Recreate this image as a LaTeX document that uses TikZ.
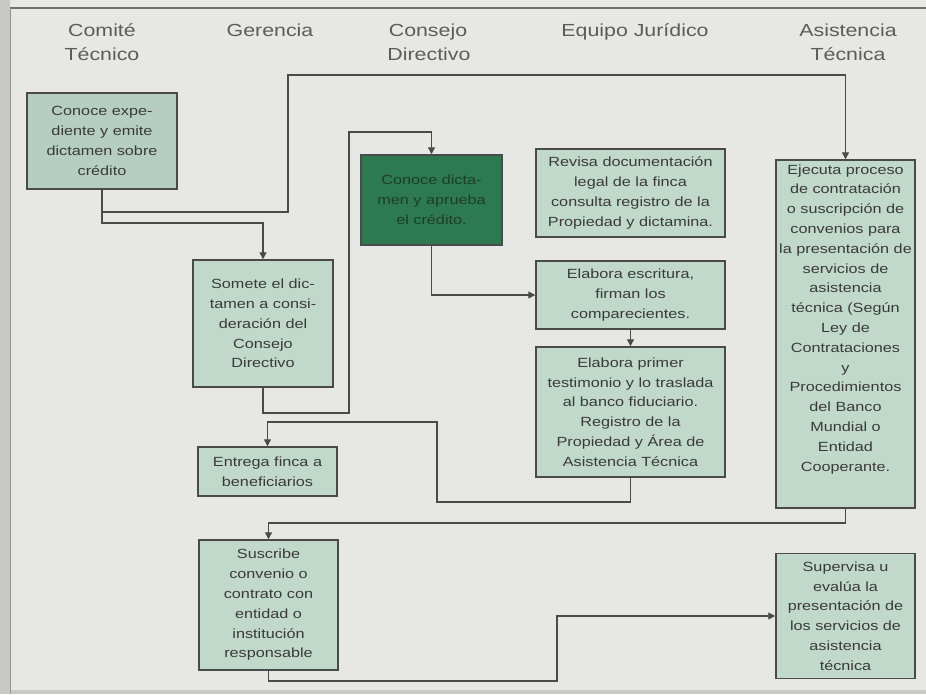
\documentclass[tikz,border=0pt]{standalone}
\usepackage{fontspec}
\setmainfont{Liberation Sans}
\newfontfamily\boxfont[FakeStretch=1.22]{Liberation Sans}
\usetikzlibrary{arrows.meta,calc}
\definecolor{bgc}{RGB}{231,231,227}
\definecolor{edgec}{RGB}{200,200,197}
\definecolor{boxc}{RGB}{193,217,203}
\definecolor{boxc2}{RGB}{182,206,193}
\definecolor{darkc}{RGB}{46,122,80}
\definecolor{darktxt}{RGB}{28,62,40}
\definecolor{linec}{RGB}{74,74,74}
\definecolor{txtc}{RGB}{58,58,58}
\definecolor{hdc}{RGB}{92,92,92}
\tikzset{
  box/.style={draw=linec, line width=1.5pt, fill=boxc, inner sep=0pt, align=center,
    font=\boxfont\fontsize{13.3}{19.8}\selectfont, text=txtc},
  txt/.style={inner sep=0pt, align=center, font=\boxfont\fontsize{13.3}{19.8}\selectfont, text=txtc},
  hd/.style={inner sep=0pt, anchor=base, font=\boxfont\fontsize{17.5}{24}\selectfont, text=hdc},
  arr/.style={draw=linec, line width=1.4pt, -{Triangle[length=7pt,width=7pt]}}
}
\begin{document}
\begin{tikzpicture}[x=1pt,y=-1pt]
\useasboundingbox (0,0) rectangle (926,694);
\fill[bgc] (0,0) rectangle (926,694);
\fill[edgec] (0,0) rectangle (10,694);
\fill[edgec] (0,690) rectangle (926,694);
\draw[linec!80, line width=1.2pt] (10,8) -- (926,8);
\draw[linec!60, line width=1pt] (10,8) -- (10,694);

% headers
\node[hd] (h1a) at (102,36) {Comité};
\node[hd] (h1b) at (102,60) {Técnico};
\node[hd] (h2) at (270,36) {Gerencia};
\node[hd] (h3a) at (428,36) {Consejo};
\node[hd] (h3b) at (429,60) {Directivo};
\node[hd] (h4) at (635,36) {Equipo Jurídico};
\node[hd] (h5a) at (848,36) {Asistencia};
\node[hd] (h5b) at (848,60) {Técnica};

% boxes
\node[box, fill=boxc2, minimum width=150, minimum height=96] (ct) at (102,141)
  {Conoce expe-\\diente y emite\\dictamen sobre\\crédito};
\node[box, minimum width=140, minimum height=127] (ger) at (263,323.5)
  {Somete el dic-\\tamen a consi-\\deración del\\Consejo\\Directivo};
\node[box, minimum width=139, minimum height=49] (ent) at (267.5,471.5)
  {Entrega finca a\\beneficiarios};
\node[box, minimum width=139, minimum height=130] (sus) at (268.5,605)
  {Suscribe\\convenio o\\contrato con\\entidad o\\institución\\responsable};
\node[box, fill=darkc, text=darktxt, minimum width=141, minimum height=90] (cd) at (431.5,200)
  {Conoce dicta-\\men y aprueba\\el crédito.};
\node[box, minimum width=189, minimum height=88] (rev) at (630.5,193)
  {Revisa documentación\\legal de la finca\\consulta registro de la\\Propiedad y dictamina.};
\node[box, minimum width=189, minimum height=68] (esc) at (630.5,295)
  {Elabora escritura,\\firman los\\comparecientes.};
\node[box, minimum width=189, minimum height=130] (pri) at (630.5,412)
  {Elabora primer\\testimonio y lo traslada\\al banco fiduciario.\\Registro de la\\Propiedad y Área de\\Asistencia Técnica};
\node[box, minimum width=139, minimum height=348] (eje) at (845.5,334) {};
\node[txt, anchor=north] (ejet) at ($(eje.north)+(0,5)$)
  {Ejecuta proceso\\de contratación\\o suscripción de\\convenios para\\la presentación de\\servicios de\\asistencia\\técnica (Según\\Ley de\\Contrataciones\\y\\Procedimientos\\del Banco\\Mundial o\\Entidad\\Cooperante.};
\node[box, minimum width=139, minimum height=125] (sup) at (845.5,616)
  {Supervisa u\\evalúa la\\presentación de\\los servicios de\\asistencia\\técnica};

% helper coordinates
\coordinate (ytop) at (0,75);

% connectors
\draw[arr] (ct.south) |- (288,212) |- (eje.north |- ytop) -- (eje.north);
\draw[arr] (ct.south) |- (263,223) -- (ger.north);
\draw[arr] (ger.south) |- (349,413) |- (431.5,132) -- (cd.north);
\draw[arr] (cd.south) |- (esc.west);
\draw[arr] (esc.south) -- (pri.north);
\draw[arr] (pri.south) |- (437,502) |- (267.5,422) -- (ent.north);
\draw[arr] (eje.south) |- (268.5,523) -- (sus.north);
\draw[arr] (sus.south) |- (557,681) |- (sup.west);
\end{tikzpicture}
\end{document}
